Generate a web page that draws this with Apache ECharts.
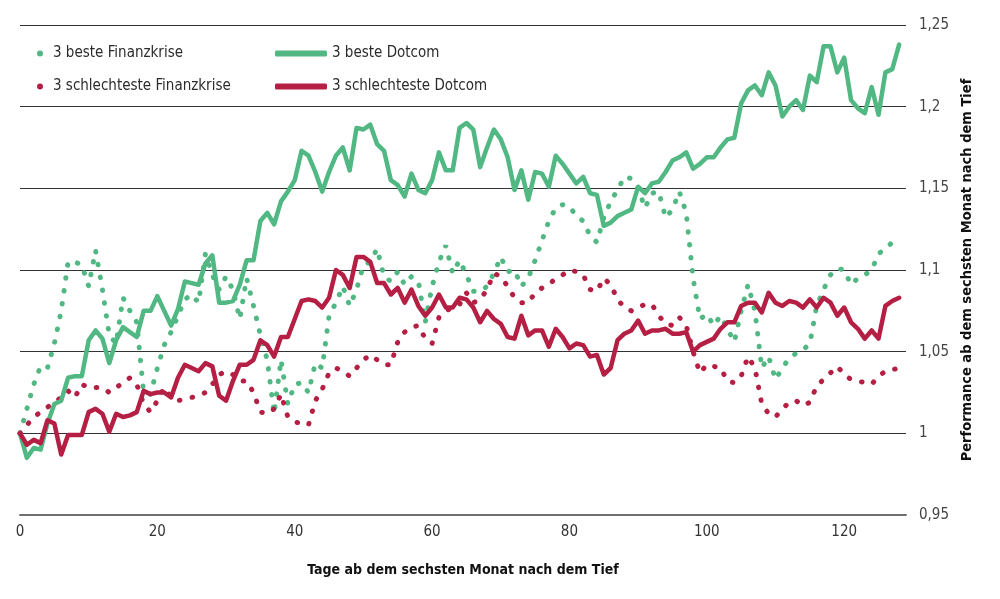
<!DOCTYPE html>
<html>
<head>
<meta charset="utf-8">
<script src="https://cdn.jsdelivr.net/npm/echarts@6/dist/echarts.min.js"></script>
<style>
html,body{margin:0;padding:0;background:#fff;}
#chart{width:1000px;height:599px;}
</style>
</head>
<body>
<div id="chart"></div>
<script>
const xTicks = [0, 20, 40, 60, 80, 100, 120];
const yTicks = [0.95, 1, 1.05, 1.1, 1.15, 1.2, 1.25];

const besteFinanzkrise = [
1.0,1.015,1.03,1.041,1.04,1.055,1.075,1.105,1.105,1.103,
1.09,1.112,1.088,1.06,1.055,1.083,1.075,1.068,1.025,1.024,
1.04,1.054,1.062,1.072,1.082,1.085,1.08,1.11,1.097,1.088,
1.096,1.088,1.07,1.095,1.078,1.06,1.045,1.012,1.045,1.018,
1.03,1.031,1.025,1.043,1.04,1.072,1.08,1.09,1.078,1.088,
1.103,1.105,1.113,1.096,1.093,1.099,1.091,1.096,1.093,1.068,
1.09,1.105,1.115,1.098,1.106,1.097,1.087,1.087,1.09,1.098,
1.108,1.099,1.1,1.09,1.095,1.106,1.118,1.13,1.138,1.14,
1.139,1.133,1.13,1.121,1.117,1.132,1.142,1.149,1.157,1.156,
1.15,1.138,1.147,1.148,1.132,1.137,1.148,1.135,1.095,1.07,
1.073,1.066,1.072,1.064,1.056,1.075,1.091,1.075,1.04,1.047,
1.033,1.04,1.046,1.049,1.051,1.055,1.078,1.088,1.097,1.101,
1.1,1.091,1.095,1.097,1.1,1.11,1.113,1.117,1.118
];

const schlechtesteFinanzkrise = [
1.0,1.005,1.01,1.013,1.016,1.019,1.022,1.026,1.022,1.03,
1.028,1.028,1.028,1.025,1.028,1.031,1.034,1.03,1.018,1.013,
1.02,1.028,1.022,1.02,1.021,1.022,1.023,1.025,1.03,1.036,
1.038,1.036,1.032,1.032,1.025,1.013,1.012,1.015,1.024,1.01,
1.007,1.006,1.005,1.02,1.027,1.037,1.04,1.038,1.035,1.04,
1.045,1.048,1.045,1.042,1.042,1.056,1.062,1.065,1.066,1.058,
1.055,1.071,1.075,1.077,1.079,1.086,1.08,1.082,1.088,1.098,
1.096,1.09,1.083,1.08,1.08,1.086,1.089,1.091,1.095,1.097,
1.1,1.099,1.097,1.088,1.087,1.095,1.091,1.082,1.077,1.075,
1.077,1.079,1.079,1.072,1.067,1.066,1.071,1.066,1.05,1.037,
1.042,1.041,1.04,1.032,1.031,1.035,1.047,1.04,1.018,1.012,
1.01,1.015,1.019,1.02,1.017,1.019,1.029,1.033,1.037,1.041,
1.036,1.033,1.032,1.031,1.03,1.035,1.038,1.039,1.04
];

const besteDotcom = [
1.0,0.985,0.991,0.99,1.006,1.018,1.02,1.034,1.035,1.035,
1.057,1.063,1.058,1.043,1.057,1.065,1.062,1.059,1.075,1.075,
1.084,1.075,1.066,1.076,1.093,1.092,1.091,1.104,1.109,1.08,
1.08,1.081,1.091,1.106,1.106,1.13,1.135,1.128,1.142,1.148,
1.155,1.173,1.17,1.16,1.148,1.16,1.17,1.175,1.161,1.187,
1.186,1.189,1.177,1.173,1.155,1.152,1.145,1.159,1.149,1.147,
1.155,1.172,1.161,1.161,1.187,1.19,1.186,1.163,1.175,1.186,
1.18,1.169,1.149,1.161,1.143,1.16,1.159,1.151,1.17,1.165,
1.159,1.153,1.157,1.147,1.146,1.127,1.129,1.133,1.135,1.137,
1.151,1.147,1.153,1.154,1.16,1.167,1.169,1.172,1.162,1.165,
1.169,1.169,1.175,1.18,1.181,1.202,1.21,1.213,1.207,1.221,
1.213,1.194,1.2,1.204,1.198,1.219,1.215,1.237,1.237,1.221,
1.23,1.204,1.199,1.196,1.212,1.195,1.221,1.223,1.238
];

const schlechtesteDotcom = [
1.0,0.993,0.996,0.994,1.008,1.006,0.987,0.999,0.999,0.999,
1.013,1.015,1.012,1.001,1.012,1.01,1.011,1.013,1.026,1.024,
1.025,1.025,1.022,1.034,1.042,1.04,1.038,1.043,1.041,1.023,
1.02,1.032,1.042,1.042,1.045,1.057,1.054,1.047,1.059,1.059,
1.07,1.081,1.082,1.081,1.077,1.083,1.1,1.097,1.089,1.108,
1.108,1.105,1.092,1.092,1.085,1.089,1.08,1.088,1.078,1.072,
1.077,1.085,1.077,1.077,1.083,1.082,1.077,1.068,1.075,1.07,
1.067,1.059,1.058,1.072,1.06,1.063,1.063,1.053,1.064,1.059,
1.052,1.055,1.054,1.047,1.048,1.036,1.04,1.057,1.061,1.063,
1.069,1.061,1.063,1.063,1.064,1.061,1.061,1.062,1.05,1.054,
1.056,1.058,1.064,1.068,1.068,1.078,1.08,1.08,1.074,1.086,
1.08,1.078,1.081,1.08,1.077,1.082,1.077,1.083,1.08,1.072,
1.077,1.068,1.064,1.058,1.063,1.058,1.078,1.081,1.083
];

const GREEN = '#51b883';
const RED = '#b51f43';
const FONT = '"Liberation Sans Narrow", "DejaVu Sans Condensed", "Roboto", sans-serif';

function pairs(arr){ return arr.map((v,i)=>[i,v]); }

const chart = echarts.init(document.getElementById('chart'), null, {renderer:'canvas'});

const dotStyle = (c)=>({color:c, width:5, type:[0.5,12.5], cap:'round'});
const solidStyle = (c)=>({color:c, width:4.5, cap:'round', join:'round'});

chart.setOption({
  animation:false,
  textStyle:{fontFamily:FONT},
  grid:{left:20, right:94, top:25, bottom:84, containLabel:false},
  legend:[
    {
      orient:'vertical', left:32, top:40, itemGap:16,
      itemWidth:6, itemHeight:6,
      textStyle:{fontFamily:FONT, fontSize:15, color:'#2b2b2b', lineHeight:17, padding:[0,0,0,5]},
      data:[{name:'3 beste Finanzkrise', icon:'circle'},{name:'3 schlechteste Finanzkrise', icon:'circle'}]
    },
    {
      orient:'vertical', left:270, top:40, itemGap:16,
      itemWidth:52, itemHeight:6,
      textStyle:{fontFamily:FONT, fontSize:15, color:'#2b2b2b', lineHeight:17},
      data:[{name:'3 beste Dotcom', icon:'roundRect'},{name:'3 schlechteste Dotcom', icon:'roundRect'}]
    }
  ],
  xAxis:{
    type:'value', min:0, max:129, interval:20,
    name:'Tage ab dem sechsten Monat nach dem Tief',
    nameLocation:'middle', nameGap:48,
    nameTextStyle:{fontFamily:FONT, fontSize:14, fontWeight:'bold', color:'#111'},
    axisLine:{show:true, lineStyle:{color:'#6f6f6f', width:2}},
    axisTick:{show:false},
    splitLine:{show:false},
    axisLabel:{
      showMaxLabel:false, margin:10,
      fontFamily:FONT, fontSize:15, color:'#333',
      formatter:(v)=> xTicks.includes(v) ? String(v) : ''
    }
  },
  yAxis:{
    type:'value', position:'right', min:0.95, max:1.25, interval:0.05,
    name:'Performance ab dem sechsten Monat nach dem Tief',
    nameLocation:'middle', nameGap:40, nameRotate:90,
    nameTextStyle:{fontFamily:FONT, fontSize:14.5, fontWeight:'bold', color:'#111'},
    axisLine:{show:false},
    axisTick:{show:false},
    splitLine:{show:true, lineStyle:{color:'#333', width:1.2}},
    axisLabel:{
      margin:13, fontFamily:FONT, fontSize:15, color:'#444',
      formatter:(v)=>{
        const r = Math.round(v*100)/100;
        const t = yTicks.find(y=>Math.abs(y-r)<1e-9);
        return t===undefined ? '' : String(t).replace('.', ',');
      }
    }
  },
  series:[
    {name:'3 beste Finanzkrise', type:'line', data:pairs(besteFinanzkrise), showSymbol:false, symbol:'circle',
     itemStyle:{color:GREEN}, lineStyle:dotStyle(GREEN), z:2},
    {name:'3 schlechteste Finanzkrise', type:'line', data:pairs(schlechtesteFinanzkrise), showSymbol:false, symbol:'circle',
     itemStyle:{color:RED}, lineStyle:dotStyle(RED), z:2},
    {name:'3 beste Dotcom', type:'line', data:pairs(besteDotcom), showSymbol:false,
     itemStyle:{color:GREEN}, lineStyle:solidStyle(GREEN), z:3},
    {name:'3 schlechteste Dotcom', type:'line', data:pairs(schlechtesteDotcom), showSymbol:false,
     itemStyle:{color:RED}, lineStyle:solidStyle(RED), z:3}
  ]
});
</script>
</body>
</html>
